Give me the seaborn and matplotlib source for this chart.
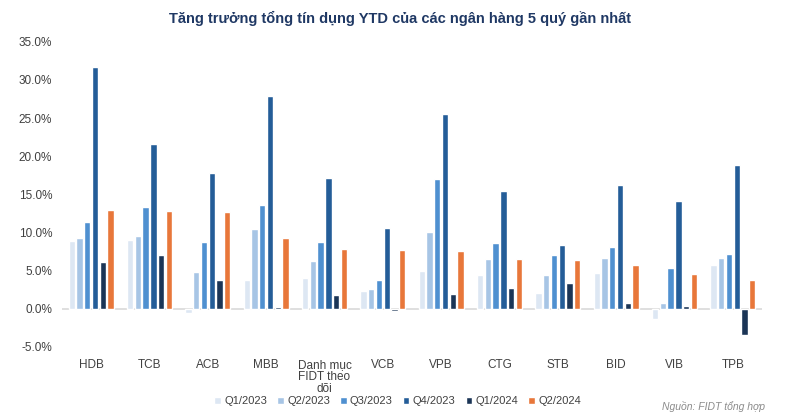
import pandas as pd
import matplotlib.pyplot as plt
import matplotlib.ticker as mticker
import seaborn as sns

banks = ["HDB", "TCB", "ACB", "MBB", "Danh mục\nFIDT theo\ndõi", "VCB",
         "VPB", "CTG", "STB", "BID", "VIB", "TPB"]
quarters = ["Q1/2023", "Q2/2023", "Q3/2023", "Q4/2023", "Q1/2024", "Q2/2024"]

q1_2023 = [8.9, 9.0, -0.6, 3.75, 4.0, 2.35, 4.9, 4.45, 2.05, 4.75, -1.35, 5.7]
q2_2023 = [9.25, 9.55, 4.8, 10.5, 6.3, 2.65, 10.1, 6.5, 4.45, 6.6, 0.75, 6.6]
q3_2023 = [11.4, 13.4, 8.7, 13.6, 8.8, 3.75, 17.0, 8.6, 7.0, 8.15, 5.3, 7.15]
q4_2023 = [31.7, 21.6, 17.8, 27.9, 17.1, 10.6, 25.5, 15.4, 8.4, 16.2, 14.1, 18.9]
q1_2024 = [6.1, 7.1, 3.75, 0.3, 1.8, -0.3, 2.0, 2.7, 3.35, 0.75, 0.4, -3.45]
q2_2024 = [12.9, 12.8, 12.7, 9.3, 7.8, 7.7, 7.6, 6.55, 6.4, 5.75, 4.5, 3.8]

colors = ["#dde7f3", "#a7c5e5", "#4f90d0", "#245d98", "#1b3556", "#e8773a"]

series = [q1_2023, q2_2023, q3_2023, q4_2023, q1_2024, q2_2024]
rows = []
for q, vals in zip(quarters, series):
    for b, v in zip(banks, vals):
        rows.append({"bank": b, "quarter": q, "value": v})
df = pd.DataFrame(rows)

sns.set_style("white")
plt.rcParams['font.family'] = ['Liberation Sans', 'DejaVu Sans']

fig = plt.figure(figsize=(8, 4.18), dpi=100)
ax = fig.add_axes([0.0775, 0.170, 0.875, 0.730])

sns.barplot(data=df, x="bank", y="value", hue="quarter", order=banks,
            hue_order=quarters, palette=colors, width=0.8, gap=0.18,
            saturation=1, errorbar=None, ax=ax)

ax.axhline(0, color="#d9d9d9", lw=1.2, zorder=0)
ax.set_ylim(-5, 35)
ax.set_xlim(-0.5, len(banks) - 0.5)
ax.yaxis.set_major_locator(mticker.MultipleLocator(5))
ax.yaxis.set_major_formatter(mticker.FuncFormatter(lambda x, p: f"{x:.1f}%"))
ax.set_xlabel("")
ax.set_ylabel("")
for s in ax.spines.values():
    s.set_visible(False)
ax.tick_params(axis="both", length=0, labelsize=8.5, labelcolor="#404040")
ax.tick_params(axis="y", pad=7)
ax.set_xticks(range(len(banks)))
ax.set_xticklabels(banks, linespacing=1.0)
ax.tick_params(axis="x", pad=9)

handles, labels = ax.get_legend_handles_labels()
ax.get_legend().remove()
fig.legend(handles, labels, loc="center", bbox_to_anchor=(0.497, 0.040), ncol=6,
           frameon=False, fontsize=8, handlelength=0.6, handleheight=0.6,
           handletextpad=0.3, columnspacing=0.9, labelcolor="#404040")

fig.text(0.5, 0.957, "Tăng trưởng tổng tín dụng YTD của các ngân hàng 5 quý gần nhất",
         ha="center", va="center", fontsize=10.5, fontweight="bold", color="#1f3864")
fig.text(0.956, 0.027, "Nguồn: FIDT tổng hợp", ha="right", va="center",
         fontsize=7.5, style="italic", color="#8c8c8c")

fig.savefig("out.png", dpi=100)
